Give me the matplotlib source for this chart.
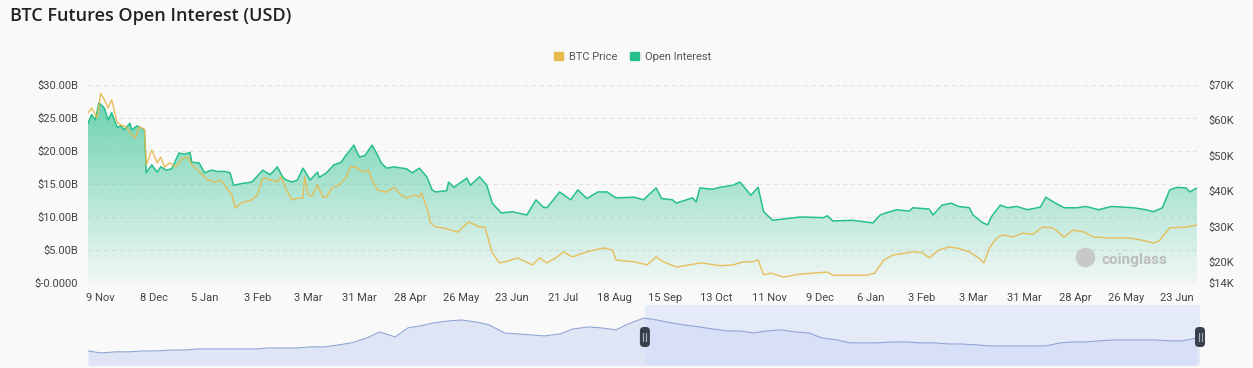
import matplotlib
matplotlib.use('Agg')
import matplotlib.pyplot as plt
import matplotlib.dates as mdates
import numpy as np
import pandas as pd
from matplotlib.colors import to_rgb
from matplotlib.patches import Patch, FancyBboxPatch
from matplotlib.lines import Line2D
from matplotlib.transforms import IdentityTransform

# Open interest (billions USD)
oi_dates = ['2021-11-02', '2021-11-04', '2021-11-06', '2021-11-08', '2021-11-11', '2021-11-13', '2021-11-15',
            '2021-11-18', '2021-11-20', '2021-11-22', '2021-11-25', '2021-11-26', '2021-11-29',
            '2021-12-01', '2021-12-03', '2021-12-04', '2021-12-07', '2021-12-10', '2021-12-12', '2021-12-15',
            '2021-12-18', '2021-12-22', '2021-12-25', '2021-12-28', '2021-12-29',
            '2022-01-02', '2022-01-05', '2022-01-09', '2022-01-12', '2022-01-16', '2022-01-19', '2022-01-21',
            '2022-01-26', '2022-01-31',
            '2022-02-06', '2022-02-10', '2022-02-14', '2022-02-17', '2022-02-19', '2022-02-22', '2022-02-25',
            '2022-02-28',
            '2022-03-01', '2022-03-04', '2022-03-08', '2022-03-09', '2022-03-13', '2022-03-17', '2022-03-21',
            '2022-03-23', '2022-03-25', '2022-03-28', '2022-03-31',
            '2022-04-03', '2022-04-07', '2022-04-10', '2022-04-12', '2022-04-15', '2022-04-19', '2022-04-26',
            '2022-04-29',
            '2022-05-03', '2022-05-07', '2022-05-10', '2022-05-12', '2022-05-18', '2022-05-19', '2022-05-22',
            '2022-05-29', '2022-05-31',
            '2022-06-05', '2022-06-09', '2022-06-12', '2022-06-17', '2022-06-23',
            '2022-07-01', '2022-07-06', '2022-07-10', '2022-07-12', '2022-07-19', '2022-07-25', '2022-07-29',
            '2022-08-03', '2022-08-09', '2022-08-14', '2022-08-19', '2022-08-29',
            '2022-09-03', '2022-09-10', '2022-09-13', '2022-09-19', '2022-09-21', '2022-09-30',
            '2022-10-02', '2022-10-04', '2022-10-11', '2022-10-15', '2022-10-22', '2022-10-26',
            '2022-11-01', '2022-11-05', '2022-11-08', '2022-11-13', '2022-11-28',
            '2022-12-11', '2022-12-13', '2022-12-16', '2022-12-27',
            '2023-01-04', '2023-01-07', '2023-01-11', '2023-01-14', '2023-01-20', '2023-01-27', '2023-01-29',
            '2023-02-07', '2023-02-09', '2023-02-14', '2023-02-19', '2023-02-23',
            '2023-03-01', '2023-03-03', '2023-03-08', '2023-03-11', '2023-03-13', '2023-03-18', '2023-03-22',
            '2023-03-27',
            '2023-04-02', '2023-04-09', '2023-04-12', '2023-04-16', '2023-04-22', '2023-04-29',
            '2023-05-04', '2023-05-11', '2023-05-18', '2023-05-30',
            '2023-06-06', '2023-06-10', '2023-06-15', '2023-06-19', '2023-06-23', '2023-06-28', '2023-06-30',
            '2023-07-04']
oi_bn = [24.2, 25.5, 24.7, 27.3, 26.5, 24.7, 25.8,
         23.6, 23.8, 23.2, 24.2, 23.2, 23.8,
         23.5, 23.2, 16.7, 17.9, 16.8, 17.6, 17.1,
         17.3, 19.7, 19.5, 19.8, 18.3,
         18.2, 16.7, 17.1, 16.9, 16.9, 16.7, 14.8,
         15.1, 15.3,
         17.1, 16.4, 17.6, 16.0, 15.6, 15.3, 15.6,
         17.4,
         17.0, 15.6, 16.8, 16.0, 16.7, 17.9, 18.3,
         19.1, 19.8, 20.9, 19.1,
         19.3, 20.9, 19.4, 18.2, 17.4, 17.6, 17.3,
         16.7,
         17.4, 16.1, 14.1, 13.8, 14.0, 15.3, 14.5,
         15.9, 14.8,
         16.1, 14.8, 12.1, 10.6, 10.8,
         10.3, 12.6, 11.5, 11.4, 13.8, 12.6, 14.1,
         12.8, 13.8, 13.8, 12.9, 13.0,
         12.6, 14.4, 12.8, 12.6, 12.1, 12.9,
         12.3, 14.4, 14.2, 14.5, 14.8, 15.3,
         13.3, 14.5, 10.8, 9.5, 10.0,
         9.9, 10.2, 9.4, 9.5,
         9.2, 9.1, 10.3, 10.6, 11.1, 10.9, 11.4,
         11.2, 10.3, 11.8, 12.1, 11.6,
         11.4, 10.3, 9.2, 8.8, 10.0, 11.8, 11.4,
         11.6,
         11.1, 11.5, 13.0, 12.3, 11.4, 11.4,
         11.6, 11.1, 11.6, 11.4,
         11.1, 10.8, 11.4, 14.1, 14.5, 14.4, 13.8,
         14.4]

# BTC price (thousands USD)
btc_dates = ['2021-11-02', '2021-11-04', '2021-11-07', '2021-11-09', '2021-11-11', '2021-11-13', '2021-11-15',
             '2021-11-18', '2021-11-20', '2021-11-23', '2021-11-26', '2021-11-28', '2021-11-30',
             '2021-12-03', '2021-12-04', '2021-12-07', '2021-12-10', '2021-12-12', '2021-12-14', '2021-12-17',
             '2021-12-20', '2021-12-24', '2021-12-27', '2021-12-29',
             '2022-01-01', '2022-01-04', '2022-01-07', '2022-01-11', '2022-01-14', '2022-01-16', '2022-01-20',
             '2022-01-22', '2022-01-25', '2022-01-31',
             '2022-02-03', '2022-02-06', '2022-02-08', '2022-02-14', '2022-02-16', '2022-02-19', '2022-02-22',
             '2022-02-25', '2022-02-28',
             '2022-03-01', '2022-03-03', '2022-03-05', '2022-03-08', '2022-03-11', '2022-03-13', '2022-03-16',
             '2022-03-20', '2022-03-24', '2022-03-26', '2022-03-29',
             '2022-04-02', '2022-04-05', '2022-04-07', '2022-04-10', '2022-04-15', '2022-04-19', '2022-04-23',
             '2022-04-26', '2022-04-30',
             '2022-05-03', '2022-05-04', '2022-05-07', '2022-05-09', '2022-05-12', '2022-05-16', '2022-05-24',
             '2022-05-30',
             '2022-06-05', '2022-06-08', '2022-06-12', '2022-06-16', '2022-06-19', '2022-06-26',
             '2022-07-04', '2022-07-08', '2022-07-12', '2022-07-17', '2022-07-21', '2022-07-26',
             '2022-08-03', '2022-08-12', '2022-08-17', '2022-08-19', '2022-08-29',
             '2022-09-05', '2022-09-10', '2022-09-14', '2022-09-21', '2022-09-28',
             '2022-10-05', '2022-10-15', '2022-10-22', '2022-10-28',
             '2022-11-02', '2022-11-05', '2022-11-08', '2022-11-12', '2022-11-19', '2022-11-28',
             '2022-12-13', '2022-12-16',
             '2023-01-04', '2023-01-08', '2023-01-13', '2023-01-18', '2023-01-29',
             '2023-02-03', '2023-02-07', '2023-02-12', '2023-02-18', '2023-02-23',
             '2023-03-01', '2023-03-06', '2023-03-09', '2023-03-12', '2023-03-16', '2023-03-19', '2023-03-25',
             '2023-03-30',
             '2023-04-05', '2023-04-10', '2023-04-16', '2023-04-22', '2023-04-27',
             '2023-05-03', '2023-05-08', '2023-05-19', '2023-05-28',
             '2023-06-03', '2023-06-10', '2023-06-13', '2023-06-19', '2023-06-28',
             '2023-07-04']
btc_k = [62.1, 63.5, 60.7, 67.7, 65.8, 63.5, 65.8,
         59.5, 58.7, 58.1, 55.9, 55.0, 58.1,
         57.5, 47.4, 51.6, 48.0, 49.6, 46.8, 48.0,
         46.8, 49.3, 49.6, 47.4,
         46.0, 44.5, 43.1, 42.6, 43.0, 41.7, 38.9,
         35.2, 36.6, 37.5,
         38.9, 43.7, 43.5, 42.6, 44.0, 40.3, 37.5,
         38.0, 38.0,
         44.0, 38.9, 38.5, 41.7, 38.3, 38.3, 40.9,
         41.7, 44.0, 46.8, 46.8,
         45.4, 46.0, 43.1, 40.3, 39.7, 41.1, 38.9,
         38.0, 38.9,
         38.3, 39.5, 35.5, 31.0, 29.8, 29.6, 28.4,
         31.3,
         29.8, 29.8, 22.5, 19.7, 20.0, 21.1,
         19.1, 21.1, 19.7, 21.1, 22.8, 21.4,
         22.8, 23.9, 23.3, 20.5, 20.0,
         19.1, 21.4, 20.0, 18.5, 19.1,
         19.7, 18.9, 19.1, 20.0,
         20.0, 20.5, 16.3, 16.8, 15.7, 16.5,
         17.1, 16.2,
         16.2, 16.8, 20.5, 21.9, 22.8,
         22.6, 21.1, 23.3, 24.2, 23.8,
         22.8, 21.1, 19.7, 23.9, 26.7, 27.6, 27.0,
         28.1,
         27.8, 29.8, 29.6, 27.0, 29.0,
         28.4, 27.0, 26.7, 26.7,
         26.2, 25.3, 25.8, 29.6, 29.8,
         30.4]

# navigator: longer open interest history (billions USD), 1st and 15th of each month
nav_dates = pd.date_range('2020-03-01', '2023-07-01', freq='SMS')
nav_bn = [8.2, 7.1, 7.7, 7.7, 8.2, 8.2, 8.7, 8.7, 9.3, 9.3, 9.3, 9.3, 9.3, 9.8, 9.8, 9.8, 10.4, 10.4, 11.5, 12.6,
          15.3, 18.6, 15.8, 20.8, 21.9, 23.5, 24.6, 25.1, 24.0, 22.4, 18.0, 17.5, 16.9, 16.4, 17.5, 20.2,
          21.3, 20.8, 19.7, 23.0, 26.2, 25.1, 23.5, 22.4,
          21.3, 20.2, 19.1, 19.1, 18.0, 19.1, 19.7, 18.6, 18.0, 15.3, 14.2, 12.6, 12.6, 12.6, 13.1, 13.1,
          12.6, 12.6, 12.0, 12.0, 11.5, 10.9, 10.9, 10.9,
          10.9, 10.9, 12.6, 13.1, 13.1, 13.7, 14.2, 14.2, 14.2, 14.2, 13.7, 13.7, 15.3]

tick_dates = ['2021-11-09', '2021-12-08', '2022-01-05', '2022-02-03', '2022-03-03', '2022-03-31', '2022-04-28',
              '2022-05-26', '2022-06-23', '2022-07-21', '2022-08-18', '2022-09-15', '2022-10-13', '2022-11-11',
              '2022-12-09', '2023-01-06', '2023-02-03', '2023-03-03', '2023-03-31', '2023-04-28', '2023-05-26',
              '2023-06-23']
oi_ticks = [0, 5, 10, 15, 20, 25, 30]
btc_ticks = [14, 20, 30, 40, 50, 60, 70]

assert len(oi_dates) == len(oi_bn)
assert len(btc_dates) == len(btc_k)
assert len(nav_dates) == len(nav_bn)

GREEN = '#27c08b'
YELLOW = '#e8b94c'
BG = '#f9f9f9'
TICK_FONT = 'Roboto'

W, H = 1253, 368
fig = plt.figure(figsize=(W / 100, H / 100), dpi=100, facecolor=BG)

oi_x = pd.to_datetime(oi_dates)
btc_x = pd.to_datetime(btc_dates)
x0, x1 = oi_x[0], oi_x[-1]

# main chart
ax = fig.add_axes([88 / W, 1 - 283 / H, (1197 - 88) / W, 198 / H])
ax.set_facecolor('none')
ax.set_zorder(1)

# gradient fill under open interest
grad = np.linspace(0, 1, 256).reshape(-1, 1)
rgba = np.zeros((256, 1, 4))
rgba[..., :3] = to_rgb(GREEN)
rgba[..., 3] = 0.04 + 0.68 * grad[:, :]
poly = ax.fill_between(oi_x, oi_bn, 0, color='none', lw=0)
im = ax.imshow(rgba, extent=[mdates.date2num(x0), mdates.date2num(x1), 0, 30],
               origin='lower', aspect='auto', zorder=1, interpolation='bilinear')
im.set_clip_path(poly.get_paths()[0], transform=ax.transData)
ax.plot(oi_x, oi_bn, color=GREEN, lw=1.1, zorder=3)

ax.set_xlim(x0, x1)
ax.set_ylim(0, 30)
ax.set_yticks(oi_ticks)
ax.set_yticklabels(['$-0.0000'] + [f'${v:.2f}B' for v in oi_ticks[1:]])
ax.yaxis.grid(True, color='#e4e4e4', linestyle=(0, (4, 3)), lw=0.8)
ax.set_axisbelow(True)
for s in ax.spines.values():
    s.set_visible(False)

tick_x = pd.to_datetime(tick_dates)
ax.set_xticks(tick_x)
ax.set_xticklabels([f'{d.day} {d:%b}' for d in tick_x])
ax.tick_params(axis='both', length=0, labelsize=8, labelcolor='#444', pad=7)
for lab in ax.get_xticklabels() + ax.get_yticklabels():
    lab.set_family(TICK_FONT)

# BTC price on the right axis
ax2 = ax.twinx()
ax2.plot(btc_x, btc_k, color=YELLOW, lw=1.0, alpha=0.9, zorder=4)
ax2.set_ylim(14, 70)
ax2.set_yticks(btc_ticks)
ax2.set_yticklabels([f'${v}K' for v in btc_ticks])
ax2.tick_params(axis='y', length=0, labelsize=8, labelcolor='#444', pad=8)
for lab in ax2.get_yticklabels():
    lab.set_family(TICK_FONT)
for s in ax2.spines.values():
    s.set_visible(False)
ax2.set_xlim(x0, x1)

# watermark
ax.plot([0.899], [0.13], marker='o', ms=13, color='#c8c8c8', transform=ax.transAxes, zorder=5)
ax.text(0.914, 0.115, 'coinglass', transform=ax.transAxes, fontsize=11, fontweight='bold',
        color='#bdbdbd', family=TICK_FONT, va='center', ha='left', zorder=5)

# title and legend
fig.text(10 / W, 1 - 16 / H, 'BTC Futures Open Interest (USD)', fontsize=13, fontweight='semibold',
         family='Open Sans', color='#222222', va='center', ha='left')
handles = [Patch(color=YELLOW, label='BTC Price'), Patch(color=GREEN, label='Open Interest')]
leg = fig.legend(handles=handles, loc='center', bbox_to_anchor=(0.505, 1 - 57 / H), ncol=2, frameon=False,
                 fontsize=8, handlelength=0.8, handleheight=0.8, handletextpad=0.5, columnspacing=1.2,
                 labelcolor='#555555')
for t in leg.get_texts():
    t.set_family(TICK_FONT)

# navigator
nav = fig.add_axes([88 / W, 1 - 365 / H, (1200 - 88) / W, 60 / H])
nav.set_facecolor('none')
nav.fill_between(nav_dates, nav_bn, 0, color='#dfe5f4', lw=0)
nav.plot(nav_dates, nav_bn, color='#90a4d6', lw=0.8)
nav.axvspan(x0, x1, color='#d3dcfa', alpha=0.5, lw=0)
nav.set_xlim(nav_dates[0], x1)
nav.set_ylim(0.5, 33.3)
nav.axis('off')

# navigator handles
for d in (x0, x1):
    px = nav.transData.transform((mdates.date2num(d), 0))[0]
    py = H - 337
    fig.add_artist(FancyBboxPatch((px - 5, py - 10), 10, 20, boxstyle='round,pad=0,rounding_size=4',
                                  transform=IdentityTransform(), facecolor='#3a3f4c', edgecolor='none'))
    for dx in (-1.5, 1.5):
        fig.add_artist(Line2D([px + dx, px + dx], [py - 4, py + 4], transform=IdentityTransform(),
                              color='#aab0bd', lw=0.8))

fig.savefig('out.png', dpi=100, facecolor=BG)
